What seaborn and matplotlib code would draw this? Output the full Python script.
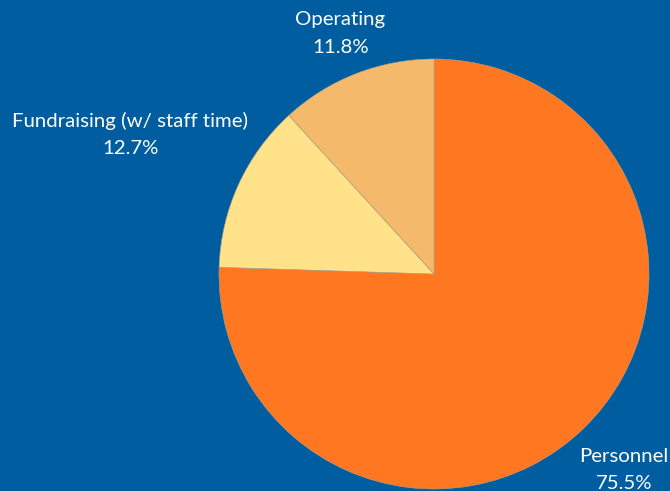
import matplotlib.pyplot as plt
import numpy as np
import seaborn as sns

sns.set_theme(style="white")
plt.rcParams["font.family"] = ["Lato", "DejaVu Sans"]

categories = ["Personnel", "Fundraising (w/ staff time)", "Operating"]
shares = [75.5, 12.7, 11.8]
colors = ["#FF7720", "#FFE28A", "#F5B96C"]
background = "#005DA0"

# how far out each label sits, in pie radii, along its slice's middle angle
label_distances = [1.27, 1.555, 1.2]

fig = plt.figure(figsize=(6.7, 4.91), dpi=100, facecolor=background)
ax = fig.add_axes([219 / 670, 2 / 491, 430 / 670, 430 / 491])
ax.set_facecolor(background)

wedges, _ = ax.pie(
    shares,
    colors=colors,
    startangle=90,
    counterclock=False,
    radius=1,
    wedgeprops=dict(edgecolor="#b0a080", linewidth=0.4),
)

for wedge, name, share, dist in zip(wedges, categories, shares, label_distances):
    mid = np.deg2rad((wedge.theta1 + wedge.theta2) / 2)
    ax.text(
        dist * np.cos(mid),
        dist * np.sin(mid),
        f"{name}\n{share:.1f}%",
        ha="center",
        va="center",
        color="white",
        fontsize=14.7,
        linespacing=1.75,
        clip_on=False,
    )

ax.set_xlim(-1, 1)
ax.set_ylim(-1, 1)
ax.set_aspect("equal")
ax.axis("off")

fig.savefig("out.png", dpi=100, facecolor=background)
